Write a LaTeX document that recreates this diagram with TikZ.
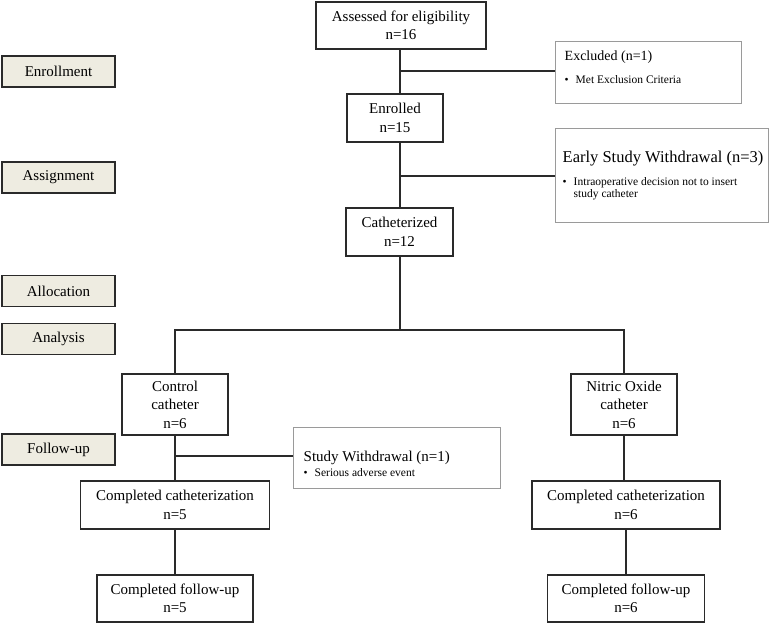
\documentclass[tikz,border=0pt]{standalone}
\usepackage{fontspec}
\setmainfont{Liberation Serif}
\usetikzlibrary{calc}
\definecolor{sidefill}{HTML}{EEECE1}
\definecolor{lineclr}{HTML}{2A2A2A}
\definecolor{grayedge}{HTML}{9A9A9A}
\tikzset{
  mainbox/.style={draw=lineclr, line width=1.3pt, fill=white, align=center, inner sep=2pt,
    font=\fontsize{15}{18.5}\selectfont},
  sidebox/.style={draw=lineclr, line width=1.2pt, fill=sidefill, minimum width=113pt, minimum height=31pt,
    inner sep=0pt, font=\fontsize{15}{17}\selectfont},
  graybox/.style={draw=grayedge, line width=1pt, fill=white, inner sep=0pt},
  graytext/.style={anchor=north west, align=left, inner sep=0pt},
  conn/.style={draw=lineclr, line width=1.3pt},
}
\begin{document}
\begin{tikzpicture}[x=1pt,y=-1pt]
\useasboundingbox (0,0) rectangle (770,625);
% side labels
\node[sidebox] (enrl) at (58.5,71.5) {Enrollment};
\node[sidebox] (assign) at (58.5,177.5) {Assignment};
\node[sidebox] (alloc) at (58.5,291) {Allocation};
\node[sidebox] (anal) at (58.5,339) {Analysis};
\node[sidebox] (fu) at (58.5,449.5) {Follow-up};
% main boxes
\node[mainbox, minimum width=170pt, minimum height=47pt] (assess) at (401,25.5) {Assessed for eligibility\\n=16};
\node[mainbox, minimum width=96pt, minimum height=48pt] (enr) at (395,118) {Enrolled\\n=15};
\node[mainbox, minimum width=107pt, minimum height=48pt] (cath) at (399.5,232) {Catheterized\\n=12};
\node[mainbox, minimum width=106pt, minimum height=61pt] (ctrl) at (175,404.5) {Control\\catheter\\n=6};
\node[mainbox, minimum width=106pt, minimum height=61pt] (no) at (624,404.5) {Nitric Oxide\\catheter\\n=6};
\node[mainbox, minimum width=189pt, minimum height=48pt] (ccl) at (175,505) {Completed catheterization\\n=5};
\node[mainbox, minimum width=188pt, minimum height=48pt] (ccr) at (626,505) {Completed catheterization\\n=6};
\node[mainbox, minimum width=156pt, minimum height=47pt] (cfl) at (175,598.5) {Completed follow-up\\n=5};
\node[mainbox, minimum width=157pt, minimum height=47pt] (cfr) at (626,598.5) {Completed follow-up\\n=6};
% gray exclusion boxes
\node[graybox, minimum width=186pt, minimum height=62pt] (exc) at (648,72) {};
\node[graytext] (exct) at ($(exc.north west)+(10,10)$) {%
  {\fontsize{14}{16}\selectfont Excluded (n=1)}\\[11pt]
  {\fontsize{11.5}{12}\selectfont \textbullet\hspace{7pt}Met Exclusion Criteria}};
\node[graybox, minimum width=213pt, minimum height=94pt] (early) at (661.5,175) {};
\node[graytext] (earlyt) at ($(early.north west)+(8,23)$) {%
  {\fontsize{16.5}{18}\selectfont Early Study Withdrawal (n=3)}\\[10pt]
  {\fontsize{11.5}{12}\selectfont \begin{tabular}{@{}l@{\hspace{7pt}}l@{}}\textbullet & Intraoperative decision not to insert\\ & study catheter\end{tabular}}};
\node[graybox, minimum width=207pt, minimum height=61pt] (sw) at (396.5,457.5) {};
\node[graytext] (swt) at ($(sw.north west)+(11,24)$) {%
  {\fontsize{15}{16}\selectfont Study Withdrawal (n=1)}\\[3pt]
  {\fontsize{11.5}{12}\selectfont \textbullet\hspace{7pt}Serious adverse event}};
% connectors
\coordinate (j1) at (400,71);
\coordinate (j2) at (400,176);
\coordinate (split) at (400,330);
\coordinate (j3) at (175,456);
\draw[conn] (400,49) -- (400,94);
\draw[conn] (400,142) -- (400,208);
\draw[conn] (400,256) -- (split);
\draw[conn] (j1) -- (exc.west |- j1);
\draw[conn] (j2) -- (early.west |- j2);
\draw[conn] (split) -| (ctrl.north);
\draw[conn] (split) -| (no.north);
\draw[conn] (ctrl.south) -- (ccl.north);
\draw[conn] (j3) -- (sw.west |- j3);
\draw[conn] (ccl.south) -- (cfl.north);
\draw[conn] (no.south) -- (ccr.north -| no.south);
\draw[conn] (ccr.south) -- (cfr.north);
\end{tikzpicture}
\end{document}
